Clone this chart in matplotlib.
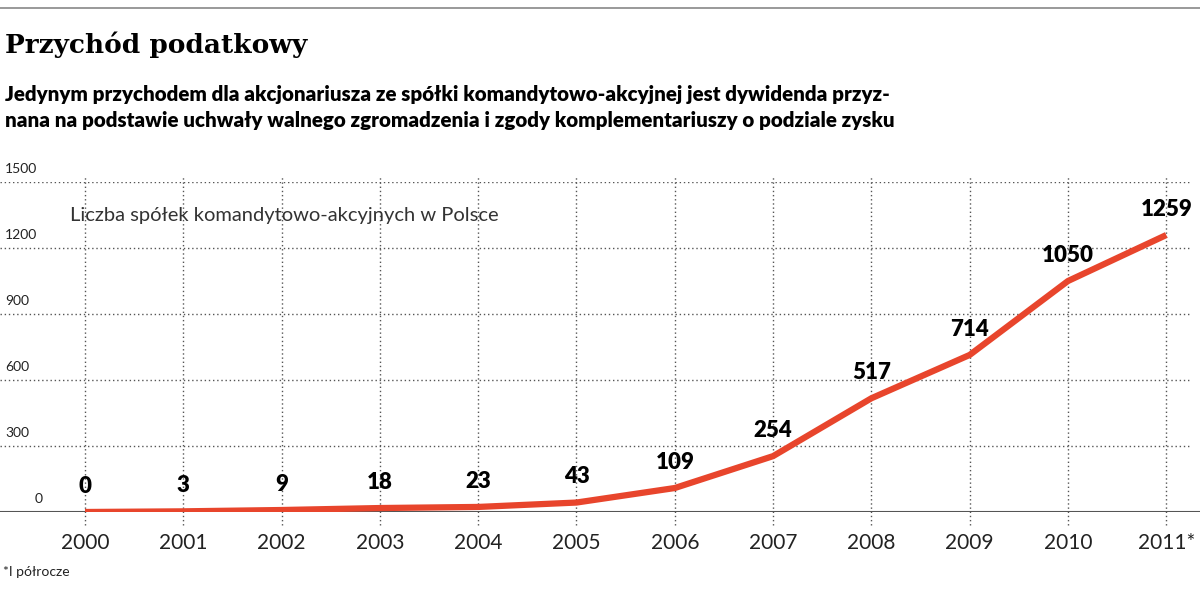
import matplotlib
matplotlib.use("Agg")
import matplotlib.pyplot as plt

years = [2000, 2001, 2002, 2003, 2004, 2005, 2006, 2007, 2008, 2009, 2010, 2011]
year_labels = ["2000", "2001", "2002", "2003", "2004", "2005", "2006", "2007", "2008", "2009", "2010", "2011*"]
values = [0, 3, 9, 18, 23, 43, 109, 254, 517, 714, 1050, 1259]
yticks = [0, 300, 600, 900, 1200, 1500]

W, H = 1200, 589
fig = plt.figure(figsize=(12, 5.89), dpi=100)
x0px, step = 85, 98.3
ax = fig.add_axes([0, (H - 512) / H, 1, 330 / H])
ax.set_xlim(2000 - x0px / step, 2000 + (W - x0px) / step)
ax.set_ylim(0, 1500)
ax.axis("off")

grid_c = "#555555"
for t in yticks[1:]:
    ax.axhline(t, xmin=0, xmax=1190 / W, color=grid_c, lw=1.0, ls=(0, (1, 2)))
    ax.text(2000 - 80 / step, t + 30, str(t), fontsize=10, fontfamily="Lato", color="#222222", va="bottom")
ax.text(2000 - 50 / step, 30, "0", fontsize=10, fontfamily="Lato", color="#222222", va="bottom")
for x in years:
    ax.plot([x, x], [-60, 1530], color=grid_c, lw=1.0, ls=(0, (1, 2)), clip_on=False)
ax.axhline(0, color="#555555", lw=1.5, zorder=2)
ax.plot(years, values, color="#e8452c", lw=4.5, solid_capstyle="butt", zorder=3)
for x, v in zip(years, values):
    ax.text(x, v + 70, str(v), fontsize=16, fontweight="heavy", fontfamily="Lato", ha="center", va="bottom", zorder=4)
for x, lab in zip(years, year_labels):
    ax.text(x, -140, lab, fontsize=15, fontfamily="Lato", ha="center", va="center", color="#222222")
ax.text(2000 - 15 / step, 1350, "Liczba spółek komandytowo-akcyjnych w Polsce", fontsize=14.5, fontfamily="Lato", color="#333333", va="center")

fig.add_artist(plt.Line2D([0, 1], [1 - 8 / H, 1 - 8 / H], color="#888888", lw=1.2))
fig.text(5 / W, 1 - 45 / H, "Przychód podatkowy", fontsize=19, fontweight="bold", fontfamily="DejaVu Serif", va="center")
fig.text(5 / W, 1 - 95 / H, "Jedynym przychodem dla akcjonariusza ze spółki komandytowo-akcyjnej jest dywidenda przyz-",
         fontsize=14.8, fontweight="heavy", fontfamily="Lato", va="center")
fig.text(5 / W, 1 - 120 / H, "nana na podstawie uchwały walnego zgromadzenia i zgody komplementariuszy o podziale zysku",
         fontsize=14.8, fontweight="heavy", fontfamily="Lato", va="center")
fig.text(3 / W, 1 - 572 / H, "*I półrocze", fontsize=10, fontfamily="Lato", va="center", color="#222222")
fig.savefig("out.png", dpi=100, facecolor="white")
